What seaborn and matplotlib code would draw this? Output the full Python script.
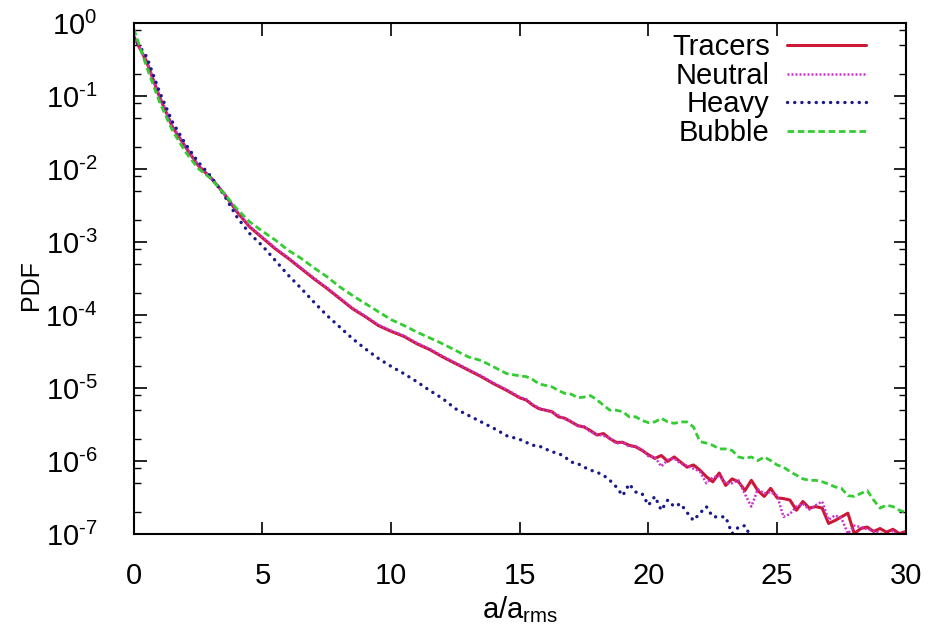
import numpy as np
import pandas as pd
import matplotlib
matplotlib.use("Agg")
import matplotlib.pyplot as plt
import seaborn as sns
from matplotlib.ticker import FixedLocator, NullFormatter

# ---------------- data (log10 of PDF) ----------------
x_vals = [0, 0.5, 1, 1.5, 2, 2.5, 3, 3.5, 4, 4.5, 5, 5.5, 6, 6.5, 7, 7.5, 8, 8.5, 9, 9.5,
          10, 10.5, 11, 11.5, 12, 12.5, 13, 13.5, 14, 14.5, 15,
          15.25, 15.5, 15.75, 16, 16.25, 16.5, 16.75, 17, 17.25, 17.5, 17.75, 18, 18.25, 18.5, 18.75,
          19, 19.25, 19.5, 19.75, 20, 20.25, 20.5, 20.75, 21, 21.25, 21.5, 21.75, 22, 22.25, 22.5,
          22.75, 23, 23.25, 23.5, 23.75, 24, 24.25, 24.5, 24.75, 25, 25.25, 25.5, 25.75, 26, 26.25,
          26.5, 26.75, 27, 27.25, 27.5, 27.75, 28, 28.25, 28.5, 28.75, 29, 29.25, 29.5, 29.75, 30]

tracers_log = [-0.18, -0.53, -1.01, -1.42, -1.69, -1.95, -2.12, -2.33, -2.58, -2.79, -2.94, -3.09, -3.22,
               -3.36, -3.50, -3.63, -3.77, -3.91, -4.02, -4.14, -4.22, -4.29, -4.39, -4.47, -4.57, -4.66,
               -4.75, -4.84, -4.94, -5.03, -5.13,
               -5.16, -5.23, -5.28, -5.30, -5.32, -5.39, -5.41, -5.46, -5.51, -5.53, -5.58, -5.64, -5.62,
               -5.69, -5.74, -5.74, -5.78, -5.80, -5.85, -5.91, -5.96, -5.92, -6.00, -5.94, -6.01, -6.08,
               -6.05, -6.12, -6.21, -6.28, -6.16, -6.33, -6.24, -6.28, -6.40, -6.26, -6.40, -6.48, -6.37,
               -6.50, -6.51, -6.53, -6.67, -6.55, -6.64, -6.62, -6.64, -6.85, -6.81, -6.76, -6.71, -6.99,
               -6.92, -6.90, -6.96, -6.92, -6.97, -6.93, -6.99, -6.96]

neutral_log = [-0.18, -0.52, -1.00, -1.41, -1.68, -1.94, -2.12, -2.33, -2.57, -2.78, -2.93, -3.08, -3.21,
               -3.35, -3.49, -3.62, -3.76, -3.90, -4.01, -4.13, -4.21, -4.28, -4.38, -4.46, -4.56, -4.65,
               -4.74, -4.83, -4.93, -5.02, -5.12,
               -5.15, -5.22, -5.27, -5.30, -5.33, -5.37, -5.42, -5.45, -5.52, -5.52, -5.60, -5.63, -5.65,
               -5.68, -5.76, -5.73, -5.80, -5.79, -5.84, -5.93, -5.94, -6.07, -5.98, -5.96, -6.03, -6.06,
               -6.10, -6.14, -6.30, -6.22, -6.20, -6.30, -6.30, -6.26, -6.45, -6.62, -6.38, -6.44, -6.42,
               -6.47, -6.76, -6.72, -6.62, -6.58, -6.66, -6.60, -6.55, -6.80, -6.74, -6.78, -6.99, -6.88,
               -6.90, -6.93, -6.95, -6.98, -7.05, -6.95, -7.02, -6.97]

heavy_log = [-0.20, -0.46, -0.94, -1.35, -1.65, -1.90, -2.10, -2.35, -2.65, -2.88, -3.05, -3.25, -3.45,
             -3.63, -3.82, -4.00, -4.16, -4.32, -4.46, -4.59, -4.70, -4.80, -4.91, -5.03, -5.14, -5.28,
             -5.37, -5.46, -5.55, -5.65, -5.70,
             -5.74, -5.78, -5.79, -5.83, -5.87, -5.89, -5.94, -6.01, -6.03, -6.08, -6.12, -6.15, -6.19,
             -6.26, -6.35, -6.47, -6.31, -6.42, -6.44, -6.60, -6.48, -6.67, -6.53, -6.62, -6.58, -6.70,
             -6.81, -6.71, -6.62, -6.76, -6.76, -6.76, -6.99, -6.90, -6.88, -7.05, -7.15, -6.97, -7.20,
             -7.20, -7.20, -7.10, -6.98, -7.20, -7.30, -7.30, -7.30, -7.30, -7.30, -7.30, -7.30, -7.30,
             -7.30, -7.30, -7.30, -7.30, -7.30, -7.30, -7.30, -7.30]

bubble_log = [-0.08, -0.60, -1.08, -1.47, -1.76, -1.99, -2.13, -2.33, -2.54, -2.72, -2.85, -2.97, -3.11,
              -3.22, -3.35, -3.47, -3.61, -3.73, -3.84, -3.95, -4.06, -4.14, -4.23, -4.31, -4.39, -4.48,
              -4.57, -4.62, -4.71, -4.80, -4.83,
              -4.84, -4.88, -4.94, -4.96, -4.98, -5.03, -5.07, -5.08, -5.13, -5.12, -5.10, -5.16, -5.23,
              -5.30, -5.30, -5.32, -5.39, -5.39, -5.44, -5.47, -5.46, -5.41, -5.46, -5.48, -5.46, -5.46,
              -5.53, -5.73, -5.75, -5.78, -5.83, -5.83, -5.85, -5.94, -5.96, -5.94, -5.99, -5.94, -5.99,
              -6.05, -6.08, -6.14, -6.19, -6.24, -6.26, -6.26, -6.28, -6.31, -6.35, -6.37, -6.47, -6.48,
              -6.44, -6.40, -6.53, -6.64, -6.60, -6.62, -6.67, -6.70]

series_names = ["Tracers", "Neutral", "Heavy", "Bubble"]
ytick_exponents = [0, -1, -2, -3, -4, -5, -6, -7]
xtick_values = [0, 5, 10, 15, 20, 25, 30]

# ---------------- style ----------------
sns.set_style("ticks")
plt.rcParams["font.family"] = ["Liberation Sans", "DejaVu Sans"]
plt.rcParams["mathtext.fontset"] = "custom"
plt.rcParams["mathtext.rm"] = "Liberation Sans"
plt.rcParams["mathtext.it"] = "Liberation Sans:italic"
plt.rcParams["mathtext.default"] = "regular"
for key in ("text.color", "axes.labelcolor", "xtick.color", "ytick.color", "axes.edgecolor"):
    plt.rcParams[key] = "black"

colors = {"Tracers": "#cc1836", "Neutral": "#cc33cc", "Heavy": "#1a1a8a", "Bubble": "#33cc33"}
styles = {
    "Tracers": dict(linestyle="-", linewidth=2.2),
    "Neutral": dict(linestyle=(0, (0.8, 0.8)), linewidth=1.8),
    "Heavy": dict(linestyle=(0, (0.05, 2.1)), linewidth=2.4, dash_capstyle="round"),
    "Bubble": dict(linestyle=(0, (2.4, 1.3)), linewidth=2.0),
}
logs = {"Tracers": tracers_log, "Neutral": neutral_log, "Heavy": heavy_log, "Bubble": bubble_log}

frames = []
for name in series_names:
    frames.append(pd.DataFrame({"x": x_vals, "pdf": np.power(10.0, logs[name]), "series": name}))
df = pd.concat(frames, ignore_index=True)

fig = plt.figure(figsize=(9.29, 6.25), dpi=100)
ax = fig.add_axes([0.144, 0.145, 0.831, 0.818])

for name in series_names:
    sub = df[df["series"] == name]
    sns.lineplot(data=sub, x="x", y="pdf", ax=ax, color=colors[name], label=name,
                 estimator=None, sort=False, **styles[name])

ax.set_yscale("log")
ax.set_xlim(0, 30)
ax.set_ylim(1e-7, 1)

fs = 21
ax.yaxis.set_major_locator(FixedLocator([10.0 ** e for e in ytick_exponents]))
ax.set_yticklabels([r"$10^{\text{%d}}$" % e if e < 0 else r"$10^{%d}$" % e for e in ytick_exponents])
minors = []
for e in ytick_exponents[1:]:
    for m in (2, 5, 8):
        minors.append(m * 10.0 ** e)
ax.yaxis.set_minor_locator(FixedLocator(minors))
ax.yaxis.set_minor_formatter(NullFormatter())
ax.xaxis.set_major_locator(FixedLocator(xtick_values))
ax.set_xticklabels([str(v) for v in xtick_values])

ax.tick_params(axis="both", which="major", direction="in", length=9, width=1.2,
               top=True, right=True, labelsize=fs)
ax.tick_params(axis="y", which="major", pad=26)
ax.tick_params(axis="x", which="major", pad=20)
ax.tick_params(axis="y", which="minor", direction="in", length=5, width=1.0, right=True)
ax.tick_params(axis="x", which="minor", bottom=False, top=False)
for sp in ax.spines.values():
    sp.set_linewidth(1.5)
    sp.set_color("black")

ax.set_xlabel(r"a/a$_{\mathrm{rms}}$", fontsize=fs)
ax.set_ylabel("PDF", fontsize=18)
ax.xaxis.set_label_coords(0.5, -0.148)
ax.xaxis.label.set_va("center")
ax.yaxis.set_label_coords(-0.133, 0.488)
ax.yaxis.label.set_va("center")

leg = ax.legend(loc="upper right", bbox_to_anchor=(0.975, 1.02), frameon=False, markerfirst=False,
                fontsize=fs, handlelength=2.7, handletextpad=0.6, labelspacing=0.02,
                borderaxespad=0.3)

fig.savefig("out.png", dpi=100)
